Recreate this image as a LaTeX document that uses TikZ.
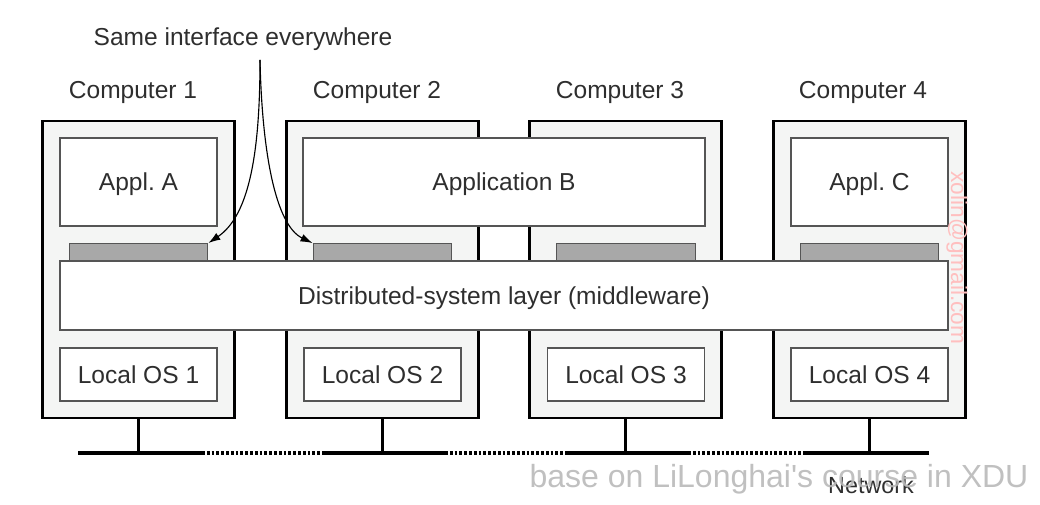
\documentclass[tikz,border=0pt]{standalone}
\usepackage{fontspec}
\setmainfont{Liberation Sans}
\newfontfamily\wmfont{Liberation Sans}[Ligatures=TeXOff]
\usetikzlibrary{arrows.meta}
\definecolor{txt}{HTML}{2E2E2E}
\definecolor{pcfill}{HTML}{F4F5F4}
\definecolor{ifill}{HTML}{A8A8A8}
\definecolor{iedge}{HTML}{555555}
\tikzset{
  pc/.style={draw=black, line width=1.9pt, fill=pcfill, minimum width=144pt, minimum height=222.75pt, inner sep=0pt},
  inbox/.style={draw=iedge, line width=0.9pt, fill=white, text=txt, inner sep=0pt, text depth=0pt, font=\fontsize{18.4pt}{21pt}\selectfont},
  ifbar/.style={draw=iedge, line width=0.9pt, fill=ifill, minimum width=104pt, minimum height=14pt, inner sep=0pt},
  lbl/.style={text=txt, inner sep=0pt, text depth=0pt, font=\fontsize{18.4pt}{21pt}\selectfont},
  net/.style={line width=3.2pt, black},
  netdash/.style={line width=3.2pt, black, dash pattern=on 2.1pt off 1.5pt},
  stem/.style={line width=2.4pt, black},
  arr/.style={line width=0.85pt, black, -{Latex[length=9pt,width=6pt]}}
}
\begin{document}
\frenchspacing
\begin{tikzpicture}[x=0.75pt,y=-0.75pt]
\useasboundingbox (0,0) rectangle (1040,505);
% computers
\node[pc] (c1) at (138.5,269.5) {};
\node[pc] (c2) at (382.5,269.5) {};
\node[pc] (c3) at (625.5,269.5) {};
\node[pc] (c4) at (869.5,269.5) {};
% applications
\node[inbox, minimum width=117.75pt, minimum height=66pt] (aA) at (138.5,182) {Appl. A};
\node[inbox, minimum width=301.5pt, minimum height=66pt] (aB) at (504,182) {Application B};
\node[inbox, minimum width=117.75pt, minimum height=66pt] (aC) at (869.5,182) {Appl. C};
% interface bars
\node[ifbar] (i1) at (138.5,253) {};
\node[ifbar] (i2) at (382.5,253) {};
\node[ifbar] (i3) at (626,253) {};
\node[ifbar] (i4) at (869.5,253) {};
% middleware
\node[inbox, minimum width=666pt, minimum height=51.75pt] (mw) at (504,295.5) {Distributed-system layer (middleware)};
% local OS
\node[inbox, minimum width=117.75pt, minimum height=39.75pt] (os1) at (138.5,374.5) {Local OS 1};
\node[inbox, minimum width=117.75pt, minimum height=39.75pt] (os2) at (382.5,374.5) {Local OS 2};
\node[inbox, minimum width=117.75pt, minimum height=39.75pt] (os3) at (626,374.5) {Local OS 3};
\node[inbox, minimum width=117.75pt, minimum height=39.75pt] (os4) at (869.5,374.5) {Local OS 4};
% labels
\node[lbl] (l1) at (133,90) {Computer 1};
\node[lbl] (l2) at (377,90) {Computer 2};
\node[lbl] (l3) at (620,90) {Computer 3};
\node[lbl] (l4) at (863,90) {Computer 4};
\node[lbl] (same) at (243,37) {Same interface everywhere};
% network
\coordinate (n1a) at (78,453);  \coordinate (n1b) at (202,453);
\coordinate (n2a) at (322,453); \coordinate (n2b) at (445,453);
\coordinate (n3a) at (567,453); \coordinate (n3b) at (688,453);
\coordinate (n4a) at (805,453); \coordinate (n4b) at (929,453);
\draw[net] (n1a) -- (n1b);
\draw[netdash] (n1b) -- (n2a);
\draw[net] (n2a) -- (n2b);
\draw[netdash] (n2b) -- (n3a);
\draw[net] (n3a) -- (n3b);
\draw[netdash] (n3b) -- (n4a);
\draw[net] (n4a) -- (n4b);
\draw[stem] (c1.south) -- (c1.south |- n1a);
\draw[stem] (c2.south) -- (c2.south |- n2a);
\draw[stem] (c3.south) -- (c3.south |- n3a);
\draw[stem] (c4.south) -- (c4.south |- n4a);
\node[lbl, font=\fontsize{17.5pt}{20pt}\selectfont] (netl) at (871,485) {Network};
% arrows
\coordinate (src) at (260,60);
\draw[arr] (src) .. controls (260,150) and (250,215) .. (i1.north east);
\draw[arr] (src) .. controls (262,150) and (275,225) .. (i2.north west);
% watermarks
\node[text=gray!55, inner sep=0pt, font=\wmfont\fontsize{24pt}{28pt}\selectfont, opacity=0.9] (wm) at (779,479) {base on LiLonghai's course in XDU};
\node[text=red!25, inner sep=0pt, rotate=-90, font=\fontsize{17pt}{20pt}\selectfont] (wm2) at (957,258) {xolin@gmail.com};
\end{tikzpicture}
\end{document}
